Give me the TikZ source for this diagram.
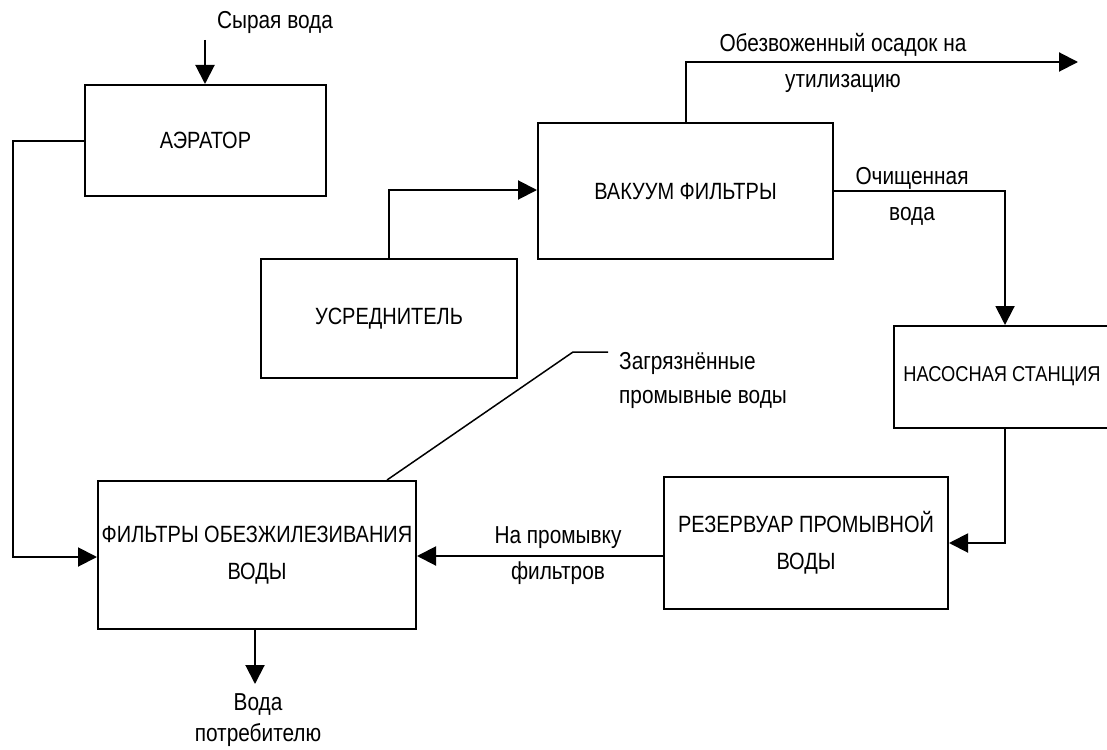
\documentclass[tikz,border=0pt]{standalone}
\usepackage{fontspec}
\setmainfont{Liberation Sans}[FakeStretch=0.85]
\usetikzlibrary{arrows.meta}
\begin{document}
\begin{tikzpicture}[x=1pt,y=-1pt,
  box/.style={draw,line width=2pt,inner sep=0pt,align=center,font=\fontsize{23.5}{37}\selectfont},
  lbl/.style={inner sep=0pt,align=center,font=\fontsize{24.5}{36}\selectfont},
  flow/.style={line width=2pt,-{Triangle[length=19pt,width=19pt]}},
  leader/.style={line width=1.5pt}]
\useasboundingbox (0,0) rectangle (1107,749);
% boxes
\node[box,minimum width=241,minimum height=111] (aer) at (205.5,140.5) {АЭРАТОР};
\node[box,minimum width=256,minimum height=119] (usr) at (389,318.5) {УСРЕДНИТЕЛЬ};
\node[box,minimum width=295,minimum height=136] (vak) at (685.5,191) {ВАКУУМ ФИЛЬТРЫ};
\node[box,minimum width=222,minimum height=102] (nas) at (1005,377) {};
\node[inner sep=0pt,font=\fontsize{21.5}{30}\selectfont] (nastxt) at (1002,376) {НАСОСНАЯ СТАНЦИЯ};
\node[box,minimum width=284,minimum height=132] (rez) at (806,543) {РЕЗЕРВУАР ПРОМЫВНОЙ\\ВОДЫ};
\node[box,minimum width=318,minimum height=148] (fil) at (257,555) {ФИЛЬТРЫ ОБЕЗЖИЛЕЗИВАНИЯ\\ВОДЫ};
% labels
\node[lbl] (lraw) at (275,22) {Сырая вода};
\node[lbl] (lsl) at (843,63) {Обезвоженный осадок на\\утилизацию};
\node[lbl] (lcl) at (912,196) {Очищенная\\вода};
\node[lbl,anchor=west] (ldirt) at (619,379) {\begin{tabular}{@{}l@{}}Загрязнённые\\[-2pt]промывные воды\end{tabular}};
\node[lbl] (lwash) at (558,556) {На промывку\\фильтров};
\node[lbl,font=\fontsize{24.5}{31}\selectfont] (lout) at (258,720) {Вода\\потребителю};
% coordinates
\coordinate (rawtop) at (205,40);
\coordinate (a1) at (13,141);
\coordinate (a2) at (13,557);
\coordinate (u1) at (389,190);
\coordinate (v1) at (686,62);
\coordinate (vend) at (1078,62);
\coordinate (c1) at (1005,191);
\coordinate (n1) at (1005,543);
\coordinate (fout) at (255,684);
\coordinate (d1) at (573,352);
\coordinate (d2) at (608,352);
% connectors
\draw[flow] (rawtop) -- (aer.north -| rawtop);
\draw[flow] (aer.west |- a1) -- (a1) -- (a2) -- (fil.west |- a2);
\draw[flow] (usr.north) -- (u1) -- (vak.west |- u1);
\draw[flow] (vak.north -| v1) -- (v1) -- (vend);
\draw[flow] (vak.east |- c1) -- (c1) -- (nas.north);
\draw[flow] (nas.south) -- (n1) -- (rez.east |- n1);
\draw[flow] (rez.west |- 0,556) -- (fil.east |- 0,556);
\draw[flow] (fil.south -| fout) -- (fout);
\draw[leader] (fil.north -| 387,0) -- (d1) -- (d2);
\end{tikzpicture}
\end{document}
